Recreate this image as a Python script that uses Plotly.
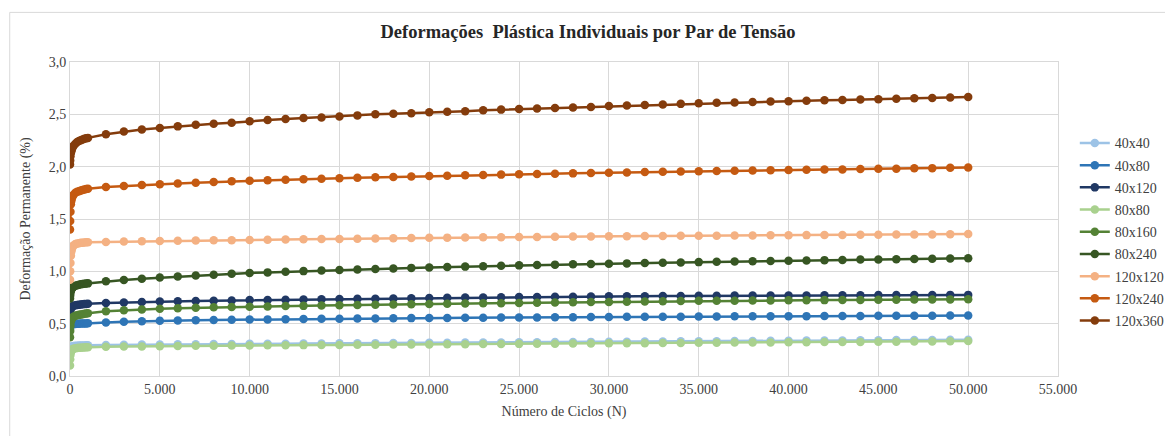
import plotly.graph_objects as go

# Number of cycles
N_EARLY = [1, 10, 25, 50, 75, 100, 150, 200, 300, 400, 500, 600, 700, 800, 900]
N_MAIN = [1000, 2000, 3000, 4000, 5000, 6000, 7000, 8000, 9000, 10000,
          11000, 12000, 13000, 14000, 15000, 16000, 17000, 18000, 19000, 20000,
          21000, 22000, 23000, 24000, 25000, 26000, 27000, 28000, 29000, 30000,
          31000, 32000, 33000, 34000, 35000, 36000, 37000, 38000, 39000, 40000,
          41000, 42000, 43000, 44000, 45000, 46000, 47000, 48000, 49000, 50000]

SERIES = ["40x40", "40x80", "40x120", "80x80", "80x160", "80x240", "120x120", "120x240", "120x360"]

early_40x40 = [0.22, 0.25, 0.265, 0.274, 0.279, 0.282, 0.285, 0.287, 0.289, 0.29, 0.291, 0.291, 0.292, 0.292, 0.293]
early_40x80 = [0.45, 0.47, 0.48, 0.487, 0.49, 0.492, 0.494, 0.496, 0.498, 0.499, 0.5, 0.501, 0.501, 0.502, 0.502]
early_40x120 = [0.585, 0.615, 0.635, 0.65, 0.657, 0.662, 0.667, 0.671, 0.675, 0.678, 0.681, 0.683, 0.685, 0.687, 0.689]
early_80x80 = [0.10, 0.16, 0.20, 0.228, 0.242, 0.25, 0.257, 0.261, 0.265, 0.268, 0.27, 0.271, 0.272, 0.273, 0.274]
early_80x160 = [0.37, 0.43, 0.48, 0.52, 0.54, 0.55, 0.56, 0.567, 0.575, 0.58, 0.584, 0.588, 0.591, 0.594, 0.597]
early_80x240 = [0.74, 0.77, 0.795, 0.815, 0.828, 0.836, 0.846, 0.853, 0.862, 0.868, 0.872, 0.876, 0.879, 0.881, 0.883]
early_120x120 = [0.92, 1.00, 1.08, 1.15, 1.19, 1.21, 1.235, 1.248, 1.26, 1.265, 1.269, 1.272, 1.274, 1.276, 1.277]
early_120x240 = [1.40, 1.48, 1.57, 1.64, 1.675, 1.695, 1.717, 1.732, 1.75, 1.76, 1.766, 1.772, 1.777, 1.782, 1.786]
early_120x360 = [2.02, 2.06, 2.10, 2.13, 2.15, 2.165, 2.185, 2.20, 2.22, 2.235, 2.245, 2.253, 2.26, 2.266, 2.271]

main_40x40 = [0.293, 0.296, 0.298, 0.300, 0.301, 0.303, 0.304, 0.305, 0.306, 0.307,
              0.308, 0.309, 0.310, 0.311, 0.312, 0.313, 0.314, 0.315, 0.316, 0.317,
              0.318, 0.319, 0.320, 0.321, 0.322, 0.323, 0.324, 0.325, 0.326, 0.327,
              0.328, 0.329, 0.330, 0.331, 0.332, 0.333, 0.334, 0.335, 0.336, 0.337,
              0.338, 0.339, 0.340, 0.341, 0.342, 0.343, 0.344, 0.345, 0.346, 0.347]
main_40x80 = [0.503, 0.512, 0.518, 0.523, 0.527, 0.530, 0.532, 0.535, 0.537, 0.539,
              0.541, 0.543, 0.544, 0.546, 0.547, 0.549, 0.550, 0.552, 0.553, 0.554,
              0.555, 0.556, 0.557, 0.558, 0.559, 0.560, 0.561, 0.562, 0.563, 0.564,
              0.565, 0.566, 0.567, 0.567, 0.568, 0.569, 0.570, 0.570, 0.571, 0.572,
              0.572, 0.573, 0.574, 0.574, 0.575, 0.575, 0.576, 0.576, 0.577, 0.577]
main_40x120 = [0.690, 0.698, 0.703, 0.707, 0.711, 0.714, 0.717, 0.720, 0.722, 0.725,
               0.727, 0.729, 0.731, 0.733, 0.735, 0.737, 0.739, 0.741, 0.743, 0.745,
               0.747, 0.749, 0.751, 0.752, 0.754, 0.755, 0.757, 0.758, 0.759, 0.761,
               0.762, 0.763, 0.764, 0.765, 0.766, 0.767, 0.768, 0.768, 0.769, 0.770,
               0.770, 0.771, 0.771, 0.772, 0.773, 0.773, 0.774, 0.774, 0.775, 0.775]
main_80x80 = [0.275, 0.279, 0.281, 0.283, 0.285, 0.287, 0.288, 0.290, 0.291, 0.292,
              0.293, 0.294, 0.295, 0.296, 0.297, 0.298, 0.299, 0.300, 0.301, 0.302,
              0.303, 0.304, 0.305, 0.306, 0.307, 0.308, 0.309, 0.310, 0.311, 0.312,
              0.313, 0.314, 0.315, 0.316, 0.317, 0.318, 0.319, 0.320, 0.321, 0.322,
              0.323, 0.324, 0.325, 0.326, 0.327, 0.328, 0.329, 0.330, 0.332, 0.334]
main_80x160 = [0.600, 0.618, 0.628, 0.636, 0.643, 0.648, 0.652, 0.656, 0.659, 0.662,
               0.665, 0.668, 0.670, 0.673, 0.675, 0.678, 0.680, 0.683, 0.685, 0.688,
               0.690, 0.692, 0.694, 0.696, 0.698, 0.700, 0.702, 0.704, 0.706, 0.708,
               0.710, 0.712, 0.714, 0.716, 0.718, 0.719, 0.720, 0.721, 0.722, 0.723,
               0.724, 0.725, 0.726, 0.727, 0.728, 0.729, 0.730, 0.731, 0.732, 0.733]
main_80x240 = [0.885, 0.905, 0.918, 0.930, 0.940, 0.950, 0.960, 0.968, 0.976, 0.984,
               0.990, 0.996, 1.002, 1.008, 1.013, 1.018, 1.023, 1.028, 1.033, 1.037,
               1.041, 1.045, 1.049, 1.053, 1.057, 1.061, 1.064, 1.067, 1.070, 1.073,
               1.076, 1.079, 1.082, 1.085, 1.088, 1.091, 1.094, 1.097, 1.099, 1.102,
               1.104, 1.107, 1.109, 1.112, 1.114, 1.116, 1.118, 1.120, 1.122, 1.125]
main_120x120 = [1.278, 1.281, 1.284, 1.287, 1.290, 1.292, 1.294, 1.296, 1.298, 1.300,
                1.302, 1.304, 1.306, 1.308, 1.310, 1.312, 1.314, 1.316, 1.318, 1.320,
                1.322, 1.323, 1.325, 1.326, 1.328, 1.329, 1.331, 1.332, 1.333, 1.335,
                1.336, 1.337, 1.338, 1.339, 1.340, 1.341, 1.342, 1.343, 1.344, 1.345,
                1.346, 1.347, 1.348, 1.349, 1.350, 1.351, 1.352, 1.353, 1.354, 1.356]
main_120x240 = [1.790, 1.805, 1.815, 1.825, 1.833, 1.840, 1.847, 1.853, 1.860, 1.865,
                1.870, 1.875, 1.880, 1.885, 1.890, 1.894, 1.898, 1.902, 1.906, 1.910,
                1.913, 1.917, 1.920, 1.924, 1.927, 1.930, 1.933, 1.936, 1.939, 1.942,
                1.945, 1.948, 1.951, 1.954, 1.957, 1.959, 1.961, 1.964, 1.966, 1.968,
                1.970, 1.972, 1.974, 1.977, 1.979, 1.981, 1.984, 1.986, 1.989, 1.992]
main_120x360 = [2.275, 2.310, 2.335, 2.355, 2.370, 2.385, 2.400, 2.410, 2.420, 2.435,
                2.445, 2.455, 2.465, 2.470, 2.480, 2.490, 2.500, 2.505, 2.510, 2.520,
                2.525, 2.530, 2.540, 2.545, 2.550, 2.555, 2.560, 2.565, 2.570, 2.580,
                2.585, 2.590, 2.595, 2.600, 2.605, 2.610, 2.612, 2.617, 2.622, 2.626,
                2.630, 2.634, 2.637, 2.641, 2.645, 2.649, 2.653, 2.657, 2.661, 2.665]

EARLY = [early_40x40, early_40x80, early_40x120, early_80x80, early_80x160,
         early_80x240, early_120x120, early_120x240, early_120x360]
MAIN = [main_40x40, main_40x80, main_40x120, main_80x80, main_80x160,
        main_80x240, main_120x120, main_120x240, main_120x360]
COLORS = ["#9DC3E6", "#2E75B6", "#203864", "#A9D18E", "#548235",
          "#375623", "#F4B183", "#C55A11", "#843C0C"]

X_TICKS = [0, 5000, 10000, 15000, 20000, 25000, 30000, 35000, 40000, 45000, 50000, 55000]
Y_TICKS = [0.0, 0.5, 1.0, 1.5, 2.0, 2.5, 3.0]

FONT = "Liberation Serif"

# page body has an 8px margin: figure is placed at (8, 8)
W, H = 1165, 428
fig = go.Figure()
for name, e, m, c in zip(SERIES, EARLY, MAIN, COLORS):
    fig.add_trace(go.Scatter(
        x=N_EARLY + N_MAIN, y=e + m, name=name, mode="lines+markers",
        legendgroup=name,
        line=dict(color=c, width=2.5),
        marker=dict(color=c, size=8.5),
    ))

# outer chart border (left & top visible in the reference)
fig.add_shape(type="rect", xref="paper", yref="paper",
              x0=-0.061, x1=1.3, y0=-0.5, y1=1.158,
              line=dict(color="#D9D9D9", width=1), fillcolor="rgba(0,0,0,0)", layer="below")

fig.update_layout(
    width=W, height=H,
    margin=dict(l=62, r=115, t=54, b=60, autoexpand=False),
    paper_bgcolor="white", plot_bgcolor="white",
    separators=",.",
    font=dict(family=FONT, size=14, color="#404040"),
    title=dict(text="<b>Deformações  Plástica Individuais por Par de Tensão</b>",
               x=(588 - 8) / W, xref="container", xanchor="center",
               y=1 - 24 / H, yref="container", yanchor="middle",
               font=dict(family=FONT, size=18.5, color="#262626")),
    showlegend=True,
    legend=dict(x=1.017, xanchor="left", y=0.459, yanchor="middle",
                font=dict(family=FONT, size=14, color="#404040"),
                tracegroupgap=1, itemwidth=30,
                bgcolor="rgba(0,0,0,0)"),
    xaxis=dict(range=[0, 55000], tickvals=X_TICKS, tickformat=",d",
               showgrid=True, gridcolor="#D9D9D9", gridwidth=1,
               showline=True, linecolor="#D9D9D9", mirror=True,
               zeroline=False, ticks="", automargin=False,
               tickfont=dict(family=FONT, size=14, color="#404040"),
               title=dict(text="Número de Ciclos (N)", standoff=10,
                          font=dict(family=FONT, size=14, color="#404040"))),
    yaxis=dict(range=[0, 3.0], tickvals=Y_TICKS, tickformat=".1f",
               showgrid=True, gridcolor="#D9D9D9", gridwidth=1,
               showline=True, linecolor="#D9D9D9", mirror=True,
               zeroline=False, ticks="", automargin=False,
               tickfont=dict(family=FONT, size=14, color="#404040"),
               title=dict(text="Deformação Permanente (%)", standoff=14,
                          font=dict(family=FONT, size=14, color="#404040"))),
)

fig.write_html("out.html")
